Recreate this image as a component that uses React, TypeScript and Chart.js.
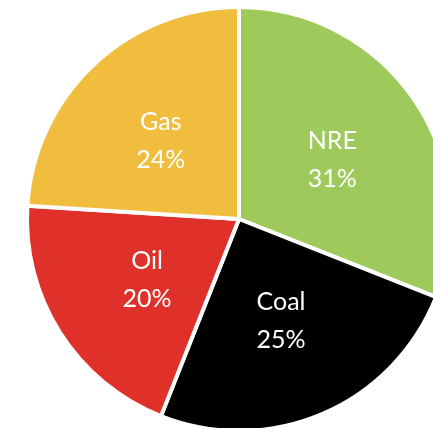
import React, { useEffect, useRef } from "react";
import { Chart, registerables } from "chart.js";

Chart.register(...registerables);

const categories = ["NRE", "Coal", "Oil", "Gas"];
const shares = [31, 25, 20, 24];
const colors = ["#9ECA5B", "#000000", "#E0302A", "#F0BD3E"];
// label placement tweaks (degrees) to mimic the original's best-fit labels
const labelAngleShift = [2, 1, -1, -2];

const labelPlugin = {
  id: "sliceLabels",
  afterDatasetsDraw(chart: any) {
    const ctx = chart.ctx;
    const meta = chart.getDatasetMeta(0);
    ctx.save();
    ctx.fillStyle = "#ffffff";
    ctx.font = "25px Lato";
    ctx.textAlign = "center";
    ctx.textBaseline = "middle";
    meta.data.forEach((arc: any, i: number) => {
      const { x, y, startAngle, endAngle, outerRadius } = arc.getProps(
        ["x", "y", "startAngle", "endAngle", "outerRadius"],
        true
      );
      const mid = (startAngle + endAngle) / 2 + (labelAngleShift[i] * Math.PI) / 180;
      const r = outerRadius * 0.52;
      const cx = x + Math.cos(mid) * r;
      const cy = y + Math.sin(mid) * r;
      ctx.fillText(categories[i], cx, cy - 19);
      ctx.fillText(shares[i] + "%", cx, cy + 19);
    });
    ctx.restore();
  },
};

export default function App() {
  const ref = useRef<HTMLCanvasElement | null>(null);
  useEffect(() => {
    document.body.style.margin = "0";
    const chart = new Chart(ref.current!, {
      type: "pie",
      data: {
        labels: categories,
        datasets: [
          {
            data: shares,
            backgroundColor: colors,
            borderColor: "#ffffff",
            borderWidth: 4,
          },
        ],
      },
      options: {
        responsive: false,
        animation: false,
        layout: { padding: { left: 25, top: 5, right: 17, bottom: 17 } },
        plugins: {
          legend: { display: false },
          tooltip: { enabled: false },
        },
      },
      plugins: [labelPlugin],
    });
    return () => chart.destroy();
  }, []);
  return (
    <div
      style={{
        position: "fixed",
        left: 0,
        top: 0,
        width: 433,
        height: 428,
        overflow: "hidden",
        background: "#ffffff",
      }}
    >
      <canvas ref={ref} width={470} height={450} style={{ display: "block" }} />
    </div>
  );
}
